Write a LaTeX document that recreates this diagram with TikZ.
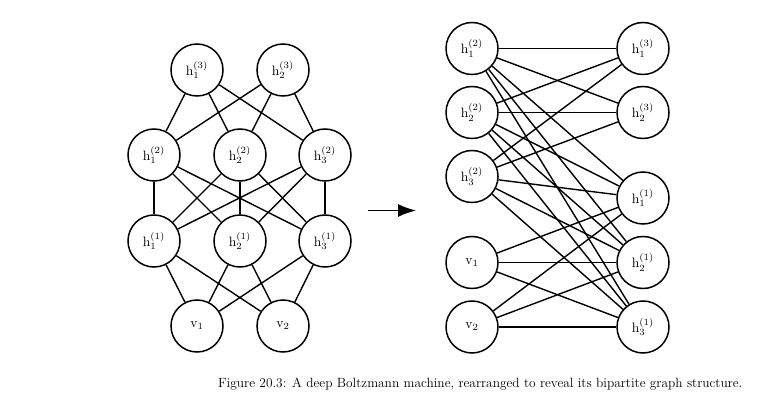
\documentclass[tikz,border=0pt]{standalone}
\usepackage{fontspec}
\usetikzlibrary{arrows.meta}
\newcommand{\lbl}[1]{\scalebox{1.36}{$#1$}}
\begin{document}
\begin{tikzpicture}[x=1pt,y=-1pt,
  unit/.style={circle,draw,line width=1.5pt,minimum size=52pt,inner sep=0pt},
  edge/.style={line width=1.4pt},
  captiontext/.style={font=\fontsize{13.37}{16}\selectfont,inner sep=0pt,anchor=base west}]
\useasboundingbox (0,0) rectangle (763,403);
% ---- left: deep Boltzmann machine ----
\node[unit] (L31) at (197,70) {\lbl{\mathrm{h}_1^{(3)}}};
\node[unit] (L32) at (283,70) {\lbl{\mathrm{h}_2^{(3)}}};
\node[unit] (L21) at (154,155) {\lbl{\mathrm{h}_1^{(2)}}};
\node[unit] (L22) at (240,155) {\lbl{\mathrm{h}_2^{(2)}}};
\node[unit] (L23) at (325,155) {\lbl{\mathrm{h}_3^{(2)}}};
\node[unit] (L11) at (154,241) {\lbl{\mathrm{h}_1^{(1)}}};
\node[unit] (L12) at (240,241) {\lbl{\mathrm{h}_2^{(1)}}};
\node[unit] (L13) at (325,241) {\lbl{\mathrm{h}_3^{(1)}}};
\node[unit] (Lv1) at (197,326) {\lbl{\mathrm{v}_1}};
\node[unit] (Lv2) at (283,326) {\lbl{\mathrm{v}_2}};
\foreach \a in {L31,L32}{\foreach \b in {L21,L22,L23}{\draw[edge] (\a) -- (\b);}}
\foreach \a in {L21,L22,L23}{\foreach \b in {L11,L12,L13}{\draw[edge] (\a) -- (\b);}}
\foreach \a in {L11,L12,L13}{\foreach \b in {Lv1,Lv2}{\draw[edge] (\a) -- (\b);}}
% ---- arrow ----
\coordinate (A0) at (368,210.5);
\coordinate (A1) at (416,210.5);
\draw[line width=1.5pt,-{Latex[length=18pt,width=13pt]}] (A0) -- (A1);
% ---- right: bipartite layout ----
\node[unit] (R21) at (472,48.5) {\lbl{\mathrm{h}_1^{(2)}}};
\node[unit] (R22) at (472,112.5) {\lbl{\mathrm{h}_2^{(2)}}};
\node[unit] (R23) at (472,176.5) {\lbl{\mathrm{h}_3^{(2)}}};
\node[unit] (Rv1) at (472,262.5) {\lbl{\mathrm{v}_1}};
\node[unit] (Rv2) at (472,327) {\lbl{\mathrm{v}_2}};
\node[unit] (R31) at (643,48.5) {\lbl{\mathrm{h}_1^{(3)}}};
\node[unit] (R32) at (643,112.5) {\lbl{\mathrm{h}_2^{(3)}}};
\node[unit] (R11) at (643,198) {\lbl{\mathrm{h}_1^{(1)}}};
\node[unit] (R12) at (643,262.5) {\lbl{\mathrm{h}_2^{(1)}}};
\node[unit] (R13) at (643,327) {\lbl{\mathrm{h}_3^{(1)}}};
\foreach \a in {R21,R22,R23}{\foreach \b in {R31,R32,R11,R12,R13}{\draw[edge] (\a) -- (\b);}}
\foreach \a in {Rv1,Rv2}{\foreach \b in {R11,R12,R13}{\draw[edge] (\a) -- (\b);}}
% ---- caption ----
\node[captiontext] (caption) at (218,387.5) {Figure 20.3: A deep Boltzmann machine, rearranged to reveal its bipartite graph structure.};
\end{tikzpicture}
\end{document}
